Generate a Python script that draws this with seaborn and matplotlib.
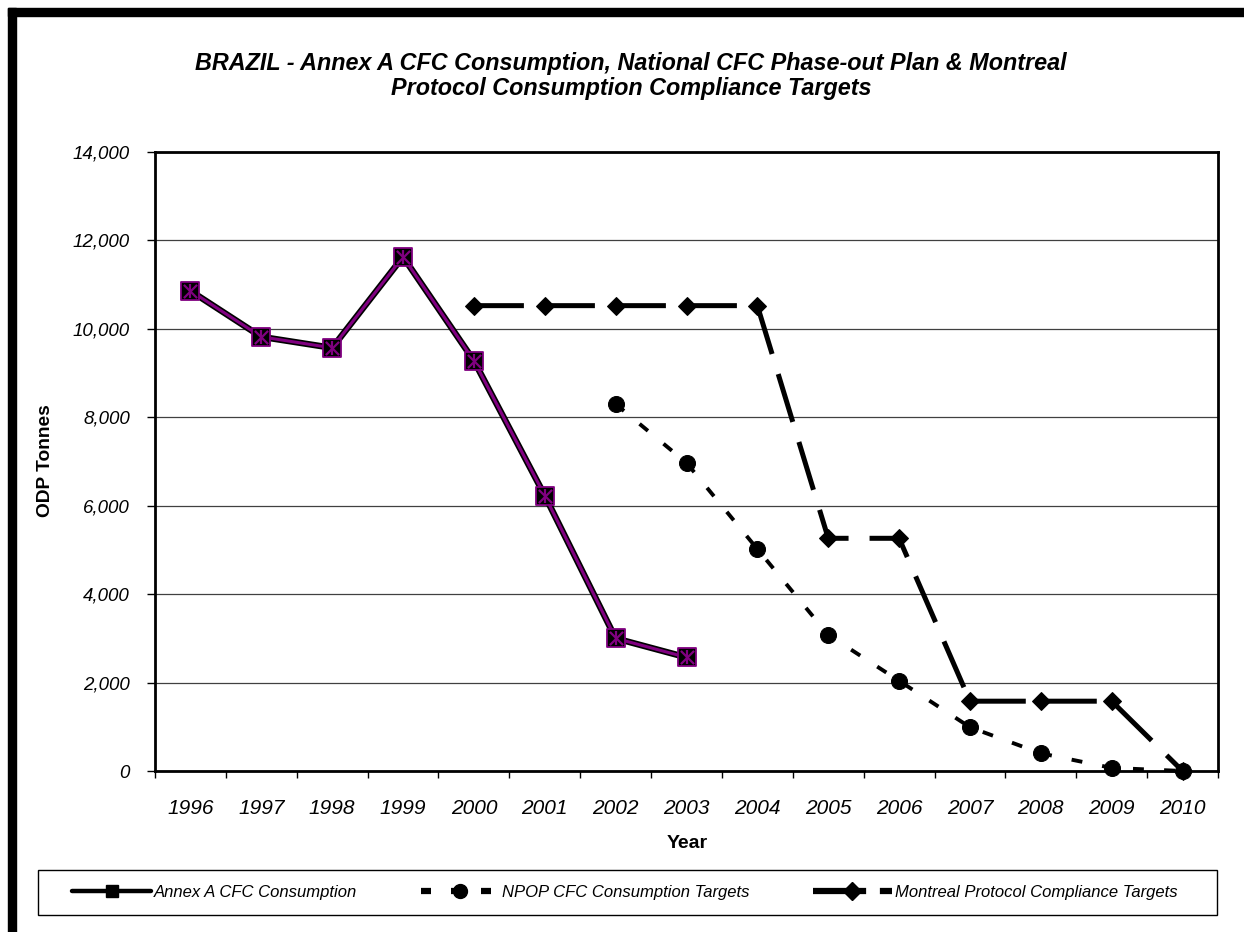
import matplotlib
matplotlib.use("Agg")
import matplotlib.pyplot as plt
import matplotlib.patheffects as pe
from matplotlib.lines import Line2D
from matplotlib.patches import Rectangle
from matplotlib.ticker import FixedLocator, StrMethodFormatter
import seaborn as sns

# Data (ODP tonnes)
years = list(range(1996, 2011))
annex_years = [1996, 1997, 1998, 1999, 2000, 2001, 2002, 2003]
annex_cons = [10860, 9820, 9570, 11630, 9280, 6230, 3000, 2570]
npop_years = [2002, 2003, 2004, 2005, 2006, 2007, 2008, 2009, 2010]
npop_targets = [8300, 6970, 5020, 3080, 2040, 990, 400, 70, 0]
mp_years = [2000, 2001, 2002, 2003, 2004, 2005, 2006, 2007, 2008, 2009, 2010]
mp_targets = [10525, 10525, 10525, 10525, 10525, 5263, 5263, 1579, 1579, 1579, 0]

sns.set_style("white")
plt.rcParams['font.family'] = ['Liberation Sans', 'DejaVu Sans']
plt.rcParams.update({"text.color": "black", "axes.labelcolor": "black",
                     "xtick.color": "black", "ytick.color": "black"})

W, H = 1244, 932
fig = plt.figure(figsize=(W / 100, H / 100), dpi=100)
ax = fig.add_axes([155 / W, 1 - 771 / H, 1063 / W, 619 / H])

purple = "#800080"

# Annex A consumption: purple line with black outline
sns.lineplot(x=annex_years, y=annex_cons, ax=ax, color=purple, lw=2.2, zorder=5,
             path_effects=[pe.Stroke(linewidth=4.6, foreground="black"), pe.Normal()])
sns.scatterplot(x=annex_years, y=annex_cons, ax=ax, marker="s", s=150, color="black",
                edgecolor=purple, linewidth=1.3, zorder=6)
sns.scatterplot(x=annex_years, y=annex_cons, ax=ax, marker="x", s=90, color=purple,
                linewidth=1.6, zorder=7)
sns.scatterplot(x=annex_years, y=annex_cons, ax=ax, marker="|", s=110, color=purple,
                linewidth=1.6, zorder=7)

# NPOP targets: short dashes with circles
sns.lineplot(x=npop_years, y=npop_targets, ax=ax, color="black", lw=2.8,
             linestyle=(0, (2.8, 5.2)), marker="o", markersize=11.5,
             markeredgecolor="black", zorder=4, clip_on=False)

# Montreal Protocol targets: long dashes with diamonds
sns.lineplot(x=mp_years, y=mp_targets, ax=ax, color="black", lw=3.6,
             linestyle=(0, (10, 4.2)), marker="D", markersize=9,
             markeredgecolor="black", zorder=4, clip_on=False)

# Axes styling
ax.set_xlim(1995.5, 2010.5)
ax.set_ylim(0, 14000)
ax.set_yticks(range(0, 14001, 2000))
ax.yaxis.set_major_formatter(StrMethodFormatter("{x:,.0f}"))
ax.xaxis.set_major_locator(FixedLocator([y - 0.5 for y in years] + [2010.5]))
ax.xaxis.set_minor_locator(FixedLocator(years))
ax.set_xticklabels([])
ax.set_xticklabels([str(y) for y in years], minor=True)
ax.tick_params(axis="x", which="major", direction="out", length=5, width=1, color="black", bottom=True)
ax.tick_params(axis="x", which="minor", length=0, pad=20, labelsize=15)
ax.tick_params(axis="y", direction="out", length=6, width=1, color="black", left=True,
               pad=12, labelsize=13.5)
for lab in ax.get_xticklabels(minor=True) + ax.get_yticklabels():
    lab.set_fontstyle("italic")
ax.grid(axis="y", color="#404040", lw=0.9)
ax.grid(axis="x", visible=False)
ax.set_axisbelow(True)
for sp in ax.spines.values():
    sp.set_color("black")
    sp.set_linewidth(2)
    sp.set_zorder(3)
ax.set_xlabel("")
ax.set_ylabel("")

# Titles and axis labels
fig.text(631 / W, 1 - 76 / H,
         "BRAZIL - Annex A CFC Consumption, National CFC Phase-out Plan & Montreal\n"
         "Protocol Consumption Compliance Targets",
         ha="center", va="center", fontsize=16.8, fontweight="bold", fontstyle="italic",
         linespacing=1.15)
fig.text(45 / W, 1 - 461 / H, "ODP Tonnes", rotation=90, ha="center", va="center",
         fontsize=13.8, fontweight="bold")
fig.text(687 / W, 1 - 843 / H, "Year", ha="center", va="center", fontsize=14,
         fontweight="bold")

# Legend with its own box
fig.patches.append(Rectangle((38 / W, 1 - 915 / H), (1217 - 38) / W, 45 / H,
                             transform=fig.transFigure, facecolor="white",
                             edgecolor="black", lw=1, zorder=1))
handles = [
    Line2D([], [], color="black", lw=3.2, marker="s", markersize=8),
    Line2D([], [], color="black", lw=4.5, linestyle=(0, (1.6, 3.2)), marker="o", markersize=10),
    Line2D([], [], color="black", lw=4.5, linestyle=(0, (8.5, 2.2)), marker="D", markersize=9),
]
labels = ["Annex A CFC Consumption", "NPOP CFC Consumption Targets",
          "Montreal Protocol Compliance Targets"]
leg = fig.legend(handles, labels, loc="center", bbox_to_anchor=(625 / W, 1 - 892 / H),
                 ncol=3, frameon=False, handlelength=4.7, handletextpad=0.2,
                 columnspacing=3.8, prop={"size": 12, "style": "italic"}, numpoints=1)
leg.set_zorder(2)

# Thick black border at top and left
fig.patches.append(Rectangle((8 / W, 1 - 16 / H), 1, 8 / H, transform=fig.transFigure,
                             color="black", zorder=0))
fig.patches.append(Rectangle((8 / W, -0.01), 8 / W, 1.01 - 8 / H, transform=fig.transFigure,
                             color="black", zorder=0))

fig.savefig("out.png", dpi=100)
